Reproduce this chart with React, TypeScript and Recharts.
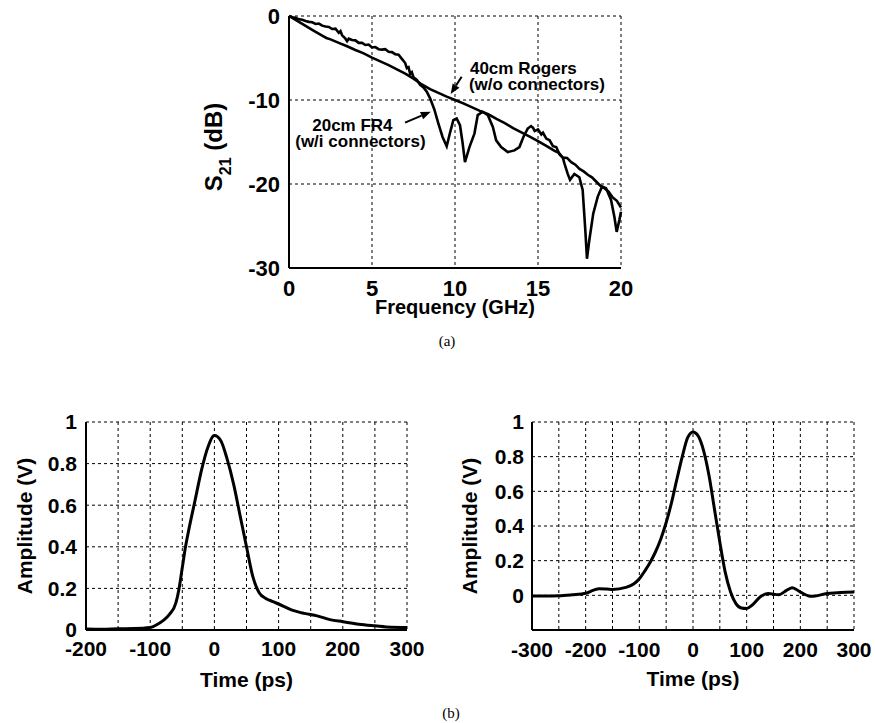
import React from 'react';
import {
  LineChart,
  Line,
  XAxis,
  YAxis,
  CartesianGrid,
  Label,
  ReferenceLine,
  ReferenceDot
} from 'recharts';

const FONT = '"Liberation Sans", Arial, Helvetica, sans-serif';

// (a) insertion loss S21 vs frequency
const freqTicks = [0, 5, 10, 15, 20];
const s21Ticks = [-30, -20, -10, 0];

const rogersFreq = [0, 0.5, 1, 1.5, 2, 2.25, 2.5, 3, 3.5, 4, 4.5, 5, 5.5, 6, 6.5, 7, 7.5, 8, 8.5, 9, 9.5, 10, 10.5, 11, 11.5, 12, 12.5, 13, 13.5, 14, 14.5, 15, 15.5, 16, 16.25, 16.5, 16.75, 17, 17.25, 17.5, 17.75, 18, 18.25, 18.5, 18.75, 19, 19.25, 19.5, 19.75, 20];
const rogersS21 = [0, -0.59, -1.18, -1.77, -2.35, -2.62, -2.78, -3.2, -3.6, -4.05, -4.45, -4.95, -5.4, -5.85, -6.35, -6.85, -7.45, -8.15, -8.7, -9.15, -9.6, -10.0, -10.4, -10.85, -11.3, -11.7, -12.25, -12.75, -13.35, -13.85, -14.35, -14.9, -15.45, -16.05, -16.3, -16.85, -16.9, -17.4, -17.7, -18.2, -18.5, -18.9, -19.2, -19.7, -20.2, -20.5, -20.9, -21.6, -22.0, -22.8];

const fr4Freq = [0, 0.2, 0.4, 0.6, 0.8, 1.0, 1.2, 1.4, 1.6, 1.8, 2.0, 2.2, 2.4, 2.6, 2.8, 3.0, 3.1, 3.2, 3.4, 3.5, 3.6, 3.8, 4.0, 4.2, 4.4, 4.6, 4.8, 5.0, 5.2, 5.4, 5.6, 5.8, 6.0, 6.2, 6.4, 6.6, 6.8, 7.0, 7.1, 7.2, 7.3, 7.4, 7.5, 7.7, 7.9, 8.1, 8.3, 8.5, 8.75, 9, 9.25, 9.5, 9.7, 9.9, 10.1, 10.3, 10.45, 10.6, 10.87, 11.17, 11.37, 11.67, 11.98, 12.28, 12.48, 12.78, 13.18, 13.58, 13.88, 14.12, 14.38, 14.58, 14.7, 14.8, 15.0, 15.2, 15.3, 15.5, 15.7, 15.9, 16.1, 16.3, 16.5, 16.6, 16.79, 16.93, 17.19, 17.49, 17.69, 17.85, 17.95, 18.09, 18.33, 18.6, 18.86, 19.1, 19.4, 19.6, 19.74, 19.9, 20];
const fr4S21 = [0, -0.15, -0.2, -0.4, -0.45, -0.6, -0.7, -0.75, -0.95, -0.9, -1.15, -1.25, -1.3, -1.55, -1.5, -2.0, -1.8, -2.3, -2.7, -3.0, -2.7, -2.85, -2.9, -3.2, -3.2, -3.45, -3.4, -3.75, -3.7, -3.95, -4.0, -3.95, -4.25, -4.3, -4.55, -4.6, -5.1, -5.6, -6.2, -6.1, -6.9, -6.7, -7.3, -7.6, -8.2, -8.5, -9.0, -9.8, -11.1, -12.8, -14.4, -15.5, -13.9, -12.4, -12.2, -13.0, -15.0, -17.4, -15.6, -14.0, -11.8, -11.4, -11.8, -13.2, -14.8, -15.6, -16.2, -16.0, -15.6, -14.4, -13.4, -13.1, -13.3, -13.7, -13.5, -14.1, -13.9, -14.6, -14.8, -15.5, -15.6, -16.5, -16.9, -17.6, -18.8, -19.5, -18.8, -19.2, -20.7, -25.5, -28.9, -26.7, -23.5, -21.5, -20.3, -20.5, -21.9, -23.9, -25.7, -24.3, -23.3];

// (b) pulse responses
const ampTicks = [0, 0.2, 0.4, 0.6, 0.8, 1];

const rogersTimeTicks = [-200, -150, -100, -50, 0, 50, 100, 150, 200, 250, 300];
const rogersTime = [-200, -175, -150, -125, -100, -90, -80, -70, -60, -55, -50, -45, -40, -30, -20, -10, 0, 10, 20, 30, 40, 50, 60, 70, 80, 90, 100, 120, 140, 160, 180, 200, 225, 250, 275, 300];
const rogersAmp = [0.005, 0.004, 0.006, 0.007, 0.012, 0.025, 0.045, 0.075, 0.13, 0.2, 0.3, 0.4, 0.48, 0.625, 0.77, 0.88, 0.935, 0.91, 0.82, 0.7, 0.55, 0.4, 0.255, 0.178, 0.152, 0.138, 0.125, 0.097, 0.08, 0.068, 0.05, 0.04, 0.028, 0.02, 0.013, 0.012];

const fr4TimeTicks = [-300, -250, -200, -150, -100, -50, 0, 50, 100, 150, 200, 250, 300];
const fr4Time = [-300, -275, -250, -225, -200, -185, -175, -160, -150, -125, -110, -100, -90, -80, -70, -60, -50, -40, -30, -20, -10, 0, 10, 20, 30, 40, 50, 60, 70, 80, 90, 100, 110, 125, 140, 160, 175, 185, 200, 220, 250, 275, 300];
const fr4Amp = [-0.004, -0.004, -0.003, 0.003, 0.012, 0.03, 0.038, 0.036, 0.034, 0.046, 0.067, 0.096, 0.14, 0.19, 0.25, 0.325, 0.42, 0.535, 0.67, 0.8, 0.91, 0.943, 0.918, 0.832, 0.688, 0.497, 0.306, 0.134, 0.019, -0.048, -0.073, -0.076, -0.057, -0.01, 0.01, 0.004, 0.03, 0.044, 0.019, -0.006, 0.01, 0.017, 0.019];

const zip = (xs: number[], ys: number[]) => xs.map((x, i) => ({ x, y: ys[i] }));

const rogersS21Data = zip(rogersFreq, rogersS21);
const fr4S21Data = zip(fr4Freq, fr4S21);
const rogersPulse = zip(rogersTime, rogersAmp);
const fr4Pulse = zip(fr4Time, fr4Amp);

const frame = { stroke: '#000', strokeWidth: 2 };
const tickStyle = (size: number) => ({ fill: '#000', fontSize: size, fontWeight: 700, fontFamily: FONT });

// text helpers for axis titles (drawn relative to the axis viewBox)
const bottomTitle = (text: string, dy: number, size: number) => (props: any) => {
  const vb = props.viewBox || {};
  return (
    <text x={vb.x + vb.width / 2} y={vb.y + dy} textAnchor="middle" fontFamily={FONT} fontWeight={700} fontSize={size} fill="#000">
      {text}
    </text>
  );
};

const topTitle = (text: string, dy: number, size: number) => (props: any) => {
  const vb = props.viewBox || {};
  return (
    <text x={vb.x + vb.width / 2} y={vb.y - dy} textAnchor="middle" fontFamily={FONT} fontWeight={700} fontSize={size} fill="#000">
      {text}
    </text>
  );
};

const sideTitle = (text: string, baseX: number, centerDy: number, size: number) => (props: any) => {
  const vb = props.viewBox || {};
  const cy = vb.y + vb.height / 2 + centerDy;
  return (
    <text x={baseX} y={cy} transform={`rotate(-90, ${baseX}, ${cy})`} textAnchor="middle" fontFamily={FONT} fontWeight={700} fontSize={size} fill="#000">
      {text}
    </text>
  );
};

const s21Title = (props: any) => {
  const vb = props.viewBox || {};
  const bx = 221.5;
  const cy = vb.y + vb.height / 2 + 5;
  return (
    <text x={bx} y={cy} transform={`rotate(-90, ${bx}, ${cy})`} textAnchor="middle" fontFamily={FONT} fontWeight={700} fontSize={24} fill="#000">
      S<tspan dy={9} fontSize={16}>21</tspan><tspan dy={-9}> (dB)</tspan>
    </text>
  );
};

const arrowShape = (p: any) => {
  const { x1, y1, x2, y2 } = p;
  const ang = Math.atan2(y2 - y1, x2 - x1);
  const len = 10;
  const half = 4;
  const bx = x2 - len * Math.cos(ang);
  const by = y2 - len * Math.sin(ang);
  const pts = `${x2},${y2} ${bx - half * Math.sin(ang)},${by + half * Math.cos(ang)} ${bx + half * Math.sin(ang)},${by - half * Math.cos(ang)}`;
  return (
    <g>
      <line x1={x1} y1={y1} x2={bx} y2={by} stroke="#000" strokeWidth={2} />
      <polygon points={pts} fill="#000" />
    </g>
  );
};

const noteText = (first: string, second: string, secondDx: number) => (p: any) => (
  <text x={p.cx} y={p.cy} fontFamily={FONT} fontWeight={700} fontSize={17} fill="#000">
    <tspan x={p.cx}>{first}</tspan>
    <tspan x={p.cx + secondDx} dy={16}>{second}</tspan>
  </text>
);

const S21Chart = () => (
  <LineChart width={875} height={345} margin={{ top: 16, right: 254, bottom: 12, left: 200 }}>
    <CartesianGrid stroke="#000" strokeDasharray="3 3" strokeWidth={1} />
    <XAxis dataKey="x" type="number" domain={[0, 20]} ticks={freqTicks} interval={0}
      height={65} tickSize={0} tickMargin={12} tickLine={false} axisLine={frame} tick={tickStyle(22)}>
      <Label content={bottomTitle('Frequency (GHz)', 46, 20)} />
    </XAxis>
    <XAxis xAxisId="frame" orientation="top" type="number" domain={[0, 20]} height={0} tick={false} tickLine={false} axisLine={frame} />
    <YAxis type="number" domain={[-30, 0]} ticks={s21Ticks} interval={0} width={89}
      tickSize={0} tickMargin={9} tickLine={false} axisLine={frame} tick={tickStyle(22)}>
      <Label content={s21Title} />
    </YAxis>
    <YAxis yAxisId="frame" orientation="right" type="number" domain={[-30, 0]} width={0} tick={false} tickLine={false} axisLine={frame} />
    <Line data={rogersS21Data} dataKey="y" type="linear" stroke="#000" strokeWidth={2.6} dot={false} isAnimationActive={false} />
    <Line data={fr4S21Data} dataKey="y" type="linear" stroke="#000" strokeWidth={2.6} dot={false} isAnimationActive={false} />
    <ReferenceLine segment={[{ x: 10.4, y: -7.23 }, { x: 9.74, y: -9.29 }]} shape={arrowShape} />
    <ReferenceLine segment={[{ x: 6.99, y: -12.7 }, { x: 8.54, y: -11.39 }]} shape={arrowShape} />
    <ReferenceDot x={10.9} y={-6.95} r={1} shape={noteText('40cm Rogers', '(w/o connectors)', -1)} />
    <ReferenceDot x={1.4} y={-13.7} r={1} shape={noteText('20cm FR4', '(w/i connectors)', -17)} />
  </LineChart>
);

interface PulseProps {
  title: string;
  data: { x: number; y: number }[];
  xDomain: [number, number];
  xTicks: number[];
  yDomain: [number, number];
  width: number;
  marginRight: number;
  marginBottom: number;
  yAxisWidth: number;
  yTickMargin: number;
  xTickMargin: number;
  yTitleX: number;
  xTitleDy: number;
}

const PulseChart = (p: PulseProps) => (
  <LineChart width={p.width} height={340} margin={{ top: 62, right: p.marginRight, bottom: p.marginBottom, left: 0 }}>
    <CartesianGrid stroke="#000" strokeDasharray="3 3" strokeWidth={1} />
    <XAxis dataKey="x" type="number" domain={p.xDomain} ticks={p.xTicks} interval={0}
      tickFormatter={(v: number) => (v % 100 === 0 ? String(v) : '')}
      height={340 - 62 - p.marginBottom - 208} tickSize={0} tickMargin={p.xTickMargin} tickLine={false}
      axisLine={frame} tick={tickStyle(21)}>
      <Label content={bottomTitle('Time (ps)', p.xTitleDy, 21)} />
    </XAxis>
    <XAxis xAxisId="frame" orientation="top" type="number" domain={p.xDomain} height={0} tick={false} tickLine={false} axisLine={frame}>
      <Label content={topTitle(p.title, 29, 21)} />
    </XAxis>
    <YAxis type="number" domain={p.yDomain} ticks={ampTicks} interval={0} width={p.yAxisWidth}
      tickSize={0} tickMargin={p.yTickMargin} tickLine={false} axisLine={frame} tick={tickStyle(21)}>
      <Label content={sideTitle('Amplitude (V)', p.yTitleX, 0, 21)} />
    </YAxis>
    <YAxis yAxisId="frame" orientation="right" type="number" domain={p.yDomain} width={0} tick={false} tickLine={false} axisLine={frame} />
    <Line data={p.data} dataKey="y" type="monotone" stroke="#000" strokeWidth={3} dot={false} isAnimationActive={false} />
  </LineChart>
);

const caption: React.CSSProperties = {
  position: 'absolute',
  fontFamily: '"Liberation Serif", "Times New Roman", serif',
  fontSize: 15,
  color: '#000',
  transform: 'translateX(-50%)',
  lineHeight: '16px'
};

export default function App() {
  return (
    <div style={{ position: 'absolute', left: 0, top: 0, width: 875, height: 723, background: '#fff', overflow: 'hidden' }}>
      <div style={{ position: 'absolute', left: 0, top: 0 }}>
        <S21Chart />
      </div>
      <div style={{ ...caption, left: 447, top: 333 }}>(a)</div>
      <div style={{ position: 'absolute', left: 0, top: 360 }}>
        <PulseChart title="40cm Rogers" data={rogersPulse} xDomain={[-200, 300]} xTicks={rogersTimeTicks}
          yDomain={[0, 1]} width={437} marginRight={30} marginBottom={10} yAxisWidth={86}
          yTickMargin={9} xTickMargin={11} yTitleX={31.7} xTitleDy={56.7} />
      </div>
      <div style={{ position: 'absolute', left: 437, top: 360 }}>
        <PulseChart title="20cm FR4" data={fr4Pulse} xDomain={[-300, 300]} xTicks={fr4TimeTicks}
          yDomain={[-0.2, 1]} width={438} marginRight={21} marginBottom={9} yAxisWidth={95}
          yTickMargin={8} xTickMargin={12} yTitleX={39.7} xTitleDy={55.7} />
      </div>
      <div style={{ ...caption, left: 451, top: 705 }}>(b)</div>
    </div>
  );
}
